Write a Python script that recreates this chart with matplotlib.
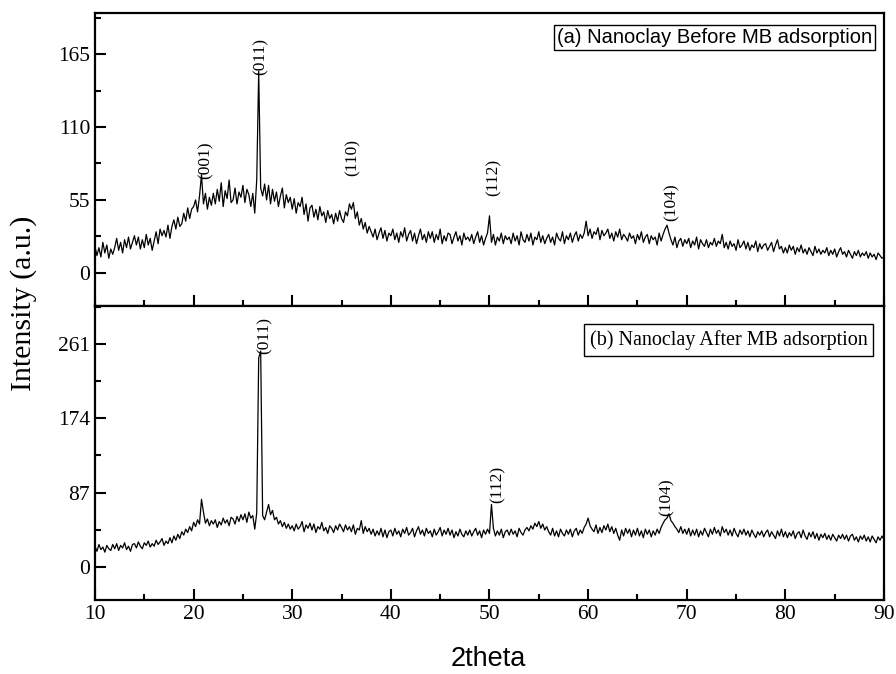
import numpy as np
import matplotlib
matplotlib.use("Agg")
import matplotlib.pyplot as plt
from matplotlib.ticker import MultipleLocator

# 2theta grid (0.2 deg step, 10 -> 90)
two_theta = np.linspace(10, 90, 401)

# (a) Nanoclay before MB adsorption
before = [
    20, 13, 19, 12, 23, 15, 21, 11, 18, 14,
    19, 26, 17, 23, 15, 25, 19, 27, 18, 23,
    28, 21, 27, 18, 25, 19, 29, 21, 26, 17,
    24, 31, 22, 33, 28, 32, 27, 36, 26, 35,
    40, 33, 42, 35, 37, 45, 39, 49, 41, 48,
    50, 55, 46, 58, 74, 52, 60, 48, 57, 51,
    60, 52, 63, 54, 68, 50, 62, 56, 70, 53,
    55, 64, 52, 61, 57, 66, 53, 63, 59, 50,
    60, 45, 70, 152, 64, 58, 67, 55, 66, 52,
    63, 54, 61, 50, 58, 64, 49, 59, 53, 57,
    48, 56, 45, 53, 50, 57, 44, 52, 39, 49,
    51, 42, 48, 40, 50, 43, 46, 38, 47, 41,
    44, 37, 45, 39, 47, 41, 38, 46, 43, 52,
    48, 53, 41, 46, 36, 41, 33, 38, 30, 35,
    31, 27, 33, 25, 30, 34, 26, 32, 24, 30,
    28, 33, 25, 30, 23, 31, 27, 34, 24, 29,
    32, 24, 30, 22, 28, 33, 25, 29, 23, 31,
    26, 31, 23, 29, 25, 33, 22, 28, 24, 30,
    29, 22, 27, 31, 24, 28, 21, 30, 25, 27,
    24, 29, 22, 27, 31, 23, 28, 21, 26, 30,
    43, 23, 29, 21, 27, 24, 30, 22, 28, 25,
    27, 22, 30, 24, 28, 21, 31, 25, 23, 29,
    24, 30, 21, 27, 25, 31, 23, 28, 22, 26,
    29, 23, 27, 21, 30, 26, 24, 31, 22, 28,
    25, 30, 23, 28, 31, 24, 29, 26, 30, 39,
    28, 33, 26, 31, 29, 34, 25, 32, 28, 30,
    33, 26, 30, 24, 31, 27, 33, 25, 29, 27,
    24, 30, 26, 28, 22, 29, 25, 31, 23, 27,
    29, 22, 28, 25, 27, 21, 30, 24, 29, 33,
    36, 30, 25, 21, 27, 19, 24, 26, 20, 25,
    22, 26, 19, 24, 21, 27, 18, 25, 22, 20,
    25, 19, 23, 21, 26, 20, 24, 22, 29, 19,
    23, 18, 24, 20, 22, 17, 25, 19, 21, 24,
    18, 23, 17, 21, 19, 24, 16, 22, 18, 21,
    22, 17, 20, 23, 16, 21, 25, 18, 20, 15,
    19, 15, 21, 17, 20, 14, 19, 16, 21, 15,
    18, 14, 19, 16, 13, 20, 15, 18, 14, 17,
    15, 19, 13, 17, 14, 18, 12, 16, 19, 14,
    16, 12, 17, 14, 11, 16, 13, 17, 12, 15,
    13, 16, 11, 15, 12, 14, 10, 15, 13, 11,
    12,
]

# (b) Nanoclay after MB adsorption
after = [
    24, 18, 26, 20, 23, 17, 25, 21, 19, 26,
    21, 27, 19, 25, 22, 28, 20, 24, 18, 26,
    27, 22, 29, 24, 21, 28, 25, 30, 23, 27,
    24, 31, 26, 29, 33, 25, 30, 27, 34, 28,
    36, 31, 38, 33, 41, 37, 44, 40, 47, 42,
    52, 47, 55, 50, 79, 64, 51, 56, 48, 54,
    50, 55, 46, 53, 49, 57, 51, 55, 48, 58,
    56, 50, 59, 53, 61, 55, 62, 52, 64, 57,
    60, 44, 63, 245, 253, 60, 55, 64, 73, 61,
    66, 55, 58, 50, 54, 47, 52, 45, 50, 44,
    48, 42, 50, 44, 47, 53, 41, 49, 45, 51,
    43, 50, 40, 47, 44, 52, 42, 46, 39, 48,
    45, 40, 48, 43, 50, 46, 41, 49, 43, 47,
    41, 49, 38, 45, 43, 54, 39, 47, 41, 45,
    38, 44, 36, 42, 37, 45, 35, 43, 34, 41,
    43, 36, 45, 38, 42, 35, 44, 39, 46, 37,
    40, 45, 35, 42, 47, 38, 43, 36, 45, 39,
    42, 35, 44, 37, 41, 46, 36, 43, 38, 45,
    37, 43, 34, 41, 36, 44, 38, 35, 42, 37,
    43, 36, 41, 45, 37, 42, 34, 43, 38, 44,
    39, 73, 45, 36, 42, 37, 44, 34, 41, 43,
    37, 44, 38, 42, 35, 45, 40, 37, 43, 46,
    42, 48, 44, 51, 47, 53, 45, 50, 43, 47,
    41, 37, 45, 36, 42, 35, 44, 39, 36, 43,
    38, 44, 35, 42, 45, 37, 43, 39, 46, 50,
    57, 48, 44, 41, 49, 39, 46, 40, 48, 43,
    50, 41, 47, 39, 45, 37, 31, 43, 36, 45,
    39, 44, 35, 43, 37, 45, 36, 42, 34, 44,
    38, 43, 35, 42, 37, 44, 39, 46, 51, 55,
    57, 62, 54, 51, 47, 44, 40, 47, 39, 44,
    38, 45, 36, 43, 37, 44, 35, 42, 37, 45,
    40, 35, 44, 38, 46, 39, 43, 36, 47, 40,
    44, 37, 43, 36, 45, 39, 35, 43, 38, 44,
    37, 42, 35, 43, 38, 34, 41, 37, 42, 35,
    40, 43, 35, 41, 37, 33, 42, 36, 44, 35,
    41, 34, 40, 36, 42, 33, 39, 41, 34, 43,
    36, 32, 40, 35, 41, 33, 39, 31, 38, 34,
    39, 32, 37, 31, 38, 34, 30, 37, 33, 38,
    32, 37, 30, 36, 38, 31, 35, 29, 36, 32,
    37, 30, 35, 29, 36, 32, 28, 35, 31, 36,
    32,
]

# peak labels (text, x, y)
labels_a = [("(001)", 21.2, 85), ("(011)", 26.75, 163), ("(110)", 36.1, 87),
            ("(112)", 50.4, 72), ("(104)", 68.5, 53)]
labels_b = [("(011)", 27.2, 271), ("(112)", 50.8, 97), ("(104)", 68.0, 81)]

serif = "Liberation Serif"
sans = "Liberation Sans"
plt.rcParams["font.family"] = serif

fig = plt.figure(figsize=(8.96, 6.74), dpi=100)
ax1 = fig.add_axes([0.106, 0.546, 0.8806, 0.4347])
ax2 = fig.add_axes([0.106, 0.110, 0.8806, 0.436], sharex=ax1)

ax1.plot(two_theta, before, color="black", lw=0.9)
ax2.plot(two_theta, after, color="black", lw=0.9)

ax1.set_xlim(10, 90)
ax1.set_ylim(-25, 196)
ax2.set_ylim(-39, 306)
ax1.set_yticks([0, 55, 110, 165])
ax2.set_yticks([0, 87, 174, 261])
ax1.yaxis.set_minor_locator(MultipleLocator(27.5))
ax2.yaxis.set_minor_locator(MultipleLocator(43.5))
ax1.xaxis.set_major_locator(MultipleLocator(10))
ax1.xaxis.set_minor_locator(MultipleLocator(5))

for ax in (ax1, ax2):
    for s in ax.spines.values():
        s.set_linewidth(1.6)
    ax.tick_params(which="both", direction="in", top=False, right=False,
                   width=1.5, labelsize=15.5)
    ax.tick_params(which="major", length=8)
    ax.tick_params(which="minor", length=4)
ax1.tick_params(labelbottom=False)

for t, x, y in labels_a:
    ax1.text(x, y, t, rotation=90, ha="center", va="center", fontsize=12.5)
for t, x, y in labels_b:
    ax2.text(x, y, t, rotation=90, ha="center", va="center", fontsize=12.5)

ax1.text(0.785, 0.915, "(a) Nanoclay Before MB adsorption", transform=ax1.transAxes,
         ha="center", va="center", fontsize=14.5, family=sans,
         bbox=dict(boxstyle="square,pad=0.15", fc="white", ec="black", lw=1))
ax2.text(0.803, 0.883, "(b) Nanoclay After MB adsorption", transform=ax2.transAxes,
         ha="center", va="center", fontsize=14.5,
         bbox=dict(boxstyle="square,pad=0.3", fc="white", ec="black", lw=1))

fig.text(0.026, 0.55, "Intensity (a.u.)", rotation=90, ha="center", va="center",
         fontsize=21.5)
fig.text(0.545, 0.022, "2theta", ha="center", va="center", fontsize=19.5, family=sans)

fig.savefig("out.png", dpi=100)
